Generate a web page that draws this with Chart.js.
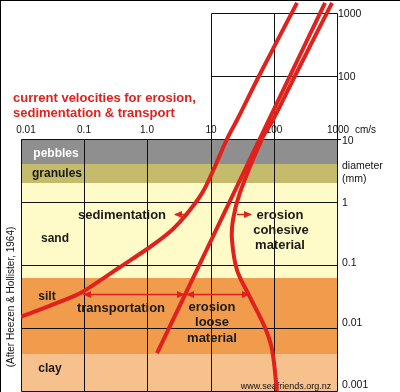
<!DOCTYPE html>
<html>
<head>
<meta charset="utf-8">
<script src="https://cdn.jsdelivr.net/npm/chart.js@4.4.1/dist/chart.umd.min.js"></script>
<style>
html, body { margin: 0; padding: 0; background: #fff; overflow: hidden; }
canvas { display: block; }
</style>
</head>
<body>
<canvas id="c" width="400" height="392"></canvas>
<script>
const canvas = document.getElementById("c")

const red = "#e0211d"
const ink = "#1a1a1a"
const font = "'Liberation Sans', Arial, sans-serif"

// current velocity (cm/s) against grain diameter (mm)
const sed_v = [0.01, 0.041, 0.092, 0.37, 1.1, 2.45, 4.72, 8.15, 18.2, 26.2, 58.3, 233]
const sed_d = [0.015, 0.026, 0.037, 0.093, 0.193, 0.36, 0.746, 1.67, 10, 20, 100, 1443]
const coh_v = [834, 216, 97, 65, 29, 22.6, 21.8, 26.2, 42, 73, 94, 112]
const coh_d = [1443, 100, 20, 10, 1.39, 0.52, 0.25, 0.083, 0.031, 0.01, 0.0045, 0.001]
const loose_v = [1.42, 646]
const loose_d = [0.004, 1443]

const band_names = ["pebbles", "granules", "sand", "silt", "clay"]
const band_top = [10, 4, 2, 0.0625, 0.0039]
const band_bottom = [4, 2, 0.0625, 0.0039, 0.001]
const band_colors = ["#8f8f8f", "#c4bc6c", "#fffbc9", "#f09c4c", "#f6c18c"]

const vel_ticks = [0.01, 0.1, 1, 10, 100, 1000]
const vel_labels = ["0.01", "0.1", "1.0", "10", "100", "1000"]
const diam_ticks = [1000, 100, 10, 1, 0.1, 0.01, 0.001]
const diam_labels = ["1000", "100", "10", "1", "0.1", "0.01", "0.001"]

function pts(vs, ds) {
    return vs.map((v, i) => ({x: v, y: ds[i]}))
}

function head(ctx, x, y, dir) {
    ctx.beginPath()
    ctx.moveTo(x, y)
    ctx.lineTo(x - dir * 8, y - 3.5)
    ctx.lineTo(x - dir * 8, y + 3.5)
    ctx.closePath()
    ctx.fill()
}

function text(ctx, s, x, y, size, bold, color, align) {
    ctx.font = (bold ? "bold " : "") + size + "px " + font
    ctx.fillStyle = color
    ctx.textAlign = align || "center"
    ctx.fillText(s, x, y)
}

const backdrop = {
    id: "backdrop",
    beforeDatasetsDraw(chart) {
        const ctx = chart.ctx
        const X = v => Math.round(chart.scales.x.getPixelForValue(v))
        const Y = d => Math.round(chart.scales.y.getPixelForValue(d))
        const left = X(0.01), right = X(1000), top = Y(10), bottom = Y(0.001)
        ctx.save()

        ctx.fillStyle = "#000"
        ctx.fillRect(0, 0, 400, 1)
        ctx.fillRect(0, 0, 1, 392)

        band_names.forEach((n, i) => {
            ctx.fillStyle = band_colors[i]
            ctx.fillRect(left, Y(band_top[i]), right - left, Y(band_bottom[i]) - Y(band_top[i]))
        })

        ctx.strokeStyle = "#111"
        ctx.lineWidth = 1
        ctx.beginPath()
        for (const v of [0.1, 1, 10, 100]) {
            ctx.moveTo(X(v) + 0.5, top)
            ctx.lineTo(X(v) + 0.5, bottom)
        }
        for (const d of [1, 0.1, 0.01]) {
            ctx.moveTo(left, Y(d) + 0.5)
            ctx.lineTo(right, Y(d) + 0.5)
        }
        ctx.rect(left + 0.5, top + 0.5, right - left, bottom - top)
        ctx.rect(X(10) + 0.5, Y(1000) + 0.5, X(1000) - X(10), Y(10) - Y(1000))
        ctx.moveTo(X(10), Y(100) + 0.5)
        ctx.lineTo(X(1000), Y(100) + 0.5)
        ctx.moveTo(X(100) + 0.5, Y(1000))
        ctx.lineTo(X(100) + 0.5, Y(10))
        ctx.moveTo(X(1000), top + 0.5)
        ctx.lineTo(X(1000) + 4, top + 0.5)
        ctx.stroke()

        ctx.textBaseline = "alphabetic"
        text(ctx, "current velocities for erosion,", 13, 102, 13, true, red, "left")
        text(ctx, "sedimentation & transport", 13, 117, 13, true, red, "left")

        vel_ticks.forEach((v, i) => {
            let x = X(v)
            if (i == 0) x += 5
            if (i == 5) x += 1
            text(ctx, vel_labels[i], x, 133, 10, false, "#111")
        })
        text(ctx, "cm/s", 355, 133, 10, false, "#111", "left")

        const dy = [4, 4, 5, 4, 1, -2, -3]
        diam_ticks.forEach((d, i) => {
            text(ctx, diam_labels[i], d >= 100 ? 338 : 342, Y(d) + dy[i], 10.5, false, "#111", "left")
        })
        text(ctx, "diameter", 342, 169, 10.5, false, "#111", "left")
        text(ctx, "(mm)", 342, 182, 10.5, false, "#111", "left")

        const band_y = [157, 177, 242, 300, 372]
        const band_x = [56, 57, 55, 47, 50]
        band_names.forEach((n, i) => {
            text(ctx, n, band_x[i], band_y[i], 12, true, i == 0 ? "#fff" : ink)
        })

        text(ctx, "sedimentation", 122, 219, 13, true, ink)
        text(ctx, "erosion", 280, 219, 13, true, ink)
        text(ctx, "cohesive", 281, 234, 13, true, ink)
        text(ctx, "material", 280, 249, 13, true, ink)
        text(ctx, "transportation", 121, 312, 13, true, ink)
        text(ctx, "erosion", 212, 311, 13, true, ink)
        text(ctx, "loose", 212, 326, 13, true, ink)
        text(ctx, "material", 212, 342, 13, true, ink)

        text(ctx, "www.seafriends.org.nz", 286, 389, 9, false, "#111")

        ctx.translate(14, 297)
        ctx.rotate(-Math.PI / 2)
        text(ctx, "(After Heezen & Hollister, 1964)", 0, 0, 10, false, "#111")
        ctx.restore()
    },
    afterDatasetsDraw(chart) {
        const ctx = chart.ctx
        ctx.save()
        ctx.strokeStyle = red
        ctx.fillStyle = red
        ctx.lineWidth = 1.3
        ctx.beginPath()
        ctx.moveTo(83, 294.5); ctx.lineTo(249, 294.5)
        ctx.moveTo(175, 214.5); ctx.lineTo(188, 214.5)
        ctx.moveTo(237, 214.5); ctx.lineTo(251, 214.5)
        ctx.stroke()
        head(ctx, 83, 294.5, -1)
        head(ctx, 185, 294.5, 1)
        head(ctx, 186, 294.5, -1)
        head(ctx, 250, 294.5, 1)
        head(ctx, 174, 214.5, -1)
        head(ctx, 252, 214.5, 1)
        ctx.restore()
    }
}

function line(data, tension) {
    return {
        data: data,
        showLine: true,
        borderColor: red,
        borderWidth: 4,
        pointRadius: 0,
        tension: tension,
        fill: false
    }
}

const chart = new Chart(canvas.getContext("2d"), {
    type: "scatter",
    data: {
        datasets: [
            line(pts(sed_v, sed_d), 0.3),
            line(pts(loose_v, loose_d), 0),
            line(pts(coh_v, coh_d), 0.35)
        ]
    },
    options: {
        responsive: false,
        animation: false,
        layout: {padding: {left: 21, right: 63, top: 0, bottom: 1}},
        scales: {
            x: {type: "logarithmic", min: 0.01, max: 1000, display: false},
            y: {type: "logarithmic", min: 0.001, max: 1607, display: false}
        },
        plugins: {
            legend: {display: false},
            tooltip: {enabled: false}
        }
    },
    plugins: [backdrop]
})
</script>
</body>
</html>
